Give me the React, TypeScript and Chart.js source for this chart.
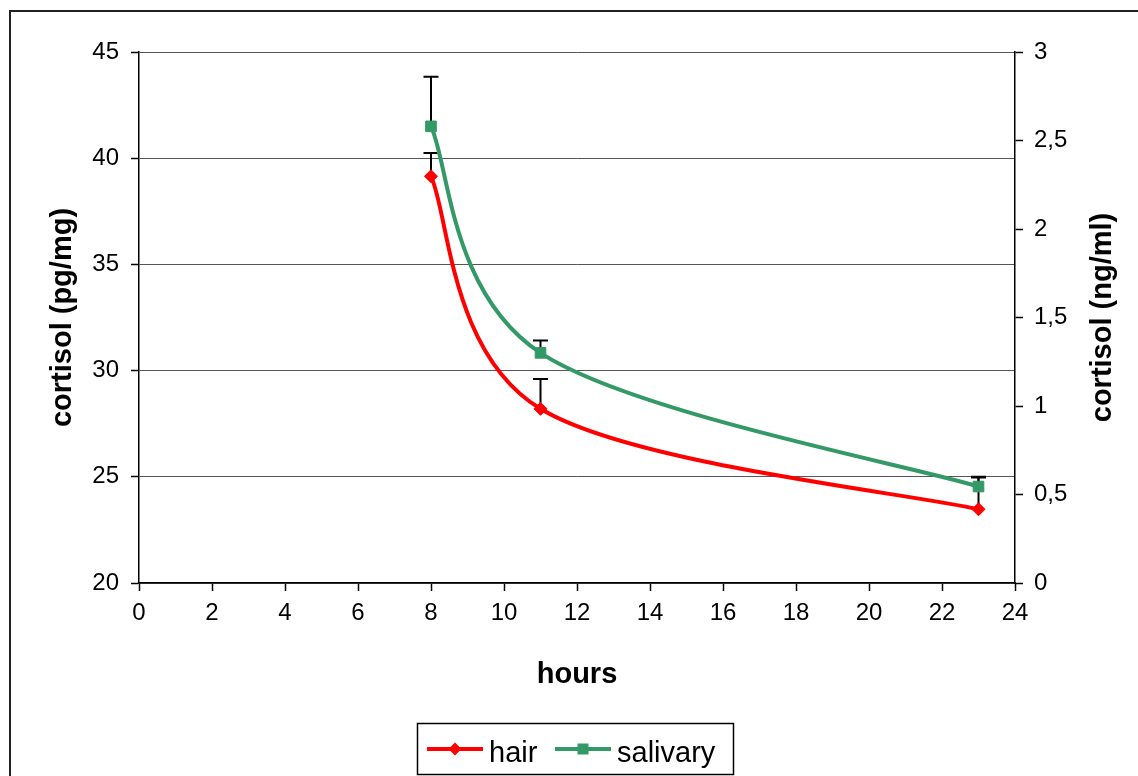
import React, { useEffect, useRef } from "react";
import { Chart, registerables } from "chart.js";

Chart.register(...registerables);

// ---- data ----
const hours = [8, 11, 23];
const hairCortisol = [39.15, 28.2, 23.47];
const hairErrorUp = [1.1, 1.4, 1.5];
const salivaryCortisol = [2.58, 1.3, 0.545];
const salivaryErrorUp = [0.28, 0.07, 0.055];
const seriesLabels = ["hair", "salivary"];
const xTicks = [0, 2, 4, 6, 8, 10, 12, 14, 16, 18, 20, 22, 24];
const leftTickLabels = ["20", "25", "30", "35", "40", "45"];
const rightTickLabels = ["0", "0,5", "1", "1,5", "2", "2,5", "3"];
const xTitle = "hours";
const leftTitle = "cortisol (pg/mg)";
const rightTitle = "cortisol (ng/ml)";

const RED = "#FF0000";
const GREEN = "#339966";
const FONT = "'Liberation Sans', Arial, Helvetica, sans-serif";

// Excel-style smoothing: Catmull-Rom (1/6) Bezier control points in pixel space
const smoothPlugin = {
  id: "excelSmooth",
  beforeDatasetDraw(chart: any, args: any) {
    const meta = args.meta;
    const line = meta.dataset;
    if (!line) return;
    if (typeof line.updateControlPoints === "function") {
      line.updateControlPoints(chart.chartArea, "x");
    }
    const pts = meta.data;
    for (let i = 0; i < pts.length; i++) {
      const cur = pts[i];
      const prev = pts[i - 1] || cur;
      const next = pts[i + 1] || cur;
      const dx = (next.x - prev.x) / 6;
      const dy = (next.y - prev.y) / 6;
      cur.cp1x = cur.x - dx;
      cur.cp1y = cur.y - dy;
      cur.cp2x = cur.x + dx;
      cur.cp2y = cur.y + dy;
    }
  },
};

const errorBarPlugin = {
  id: "errorBars",
  beforeDatasetsDraw(chart: any) {
    const ctx = chart.ctx;
    const errs = [hairErrorUp, salivaryErrorUp];
    chart.data.datasets.forEach((ds: any, i: number) => {
      const yScale = chart.scales[ds.yAxisID];
      const xScale = chart.scales.x;
      ds.data.forEach((p: any, j: number) => {
        const x = xScale.getPixelForValue(p.x);
        const y0 = yScale.getPixelForValue(p.y);
        const y1 = yScale.getPixelForValue(p.y + errs[i][j]);
        ctx.save();
        ctx.strokeStyle = "#000";
        ctx.lineWidth = 2;
        ctx.beginPath();
        ctx.moveTo(x, y0);
        ctx.lineTo(x, y1);
        ctx.moveTo(x - 7.5, y1);
        ctx.lineTo(x + 7.5, y1);
        ctx.stroke();
        ctx.restore();
      });
    });
  },
};

const decorPlugin = {
  id: "decor",
  beforeDraw(chart: any) {
    const ctx = chart.ctx;
    ctx.save();
    ctx.fillStyle = "#fff";
    ctx.fillRect(0, 0, chart.width, chart.height);
    ctx.strokeStyle = "#222";
    ctx.lineWidth = 2;
    ctx.strokeRect(10, 11, 1400, 1000);
    ctx.restore();
  },
  afterDraw(chart: any) {
    const ctx = chart.ctx;
    const area = chart.chartArea;
    const midY = (area.top + area.bottom) / 2;
    ctx.save();
    ctx.fillStyle = "#000";
    ctx.font = `bold 29px ${FONT}`;
    ctx.textAlign = "center";
    ctx.textBaseline = "alphabetic";
    ctx.fillText(xTitle, (area.left + area.right) / 2, 683);
    // left title
    ctx.save();
    ctx.translate(71, midY);
    ctx.rotate(-Math.PI / 2);
    ctx.fillText(leftTitle, 0, 0);
    ctx.restore();
    // right title
    ctx.save();
    ctx.translate(1111, midY);
    ctx.rotate(-Math.PI / 2);
    ctx.fillText(rightTitle, 0, 0);
    ctx.restore();

    // legend
    ctx.strokeStyle = "#000";
    ctx.lineWidth = 1.5;
    ctx.strokeRect(417.5, 723.5, 316, 51);
    const items = [
      { x0: 427, x1: 483, tx: 489 },
      { x0: 555, x1: 611, tx: 617 },
    ];
    chart.data.datasets.forEach((ds: any, i: number) => {
      const it = items[i];
      const ly = 749;
      ctx.strokeStyle = ds.borderColor;
      ctx.lineWidth = 4;
      ctx.beginPath();
      ctx.moveTo(it.x0, ly);
      ctx.lineTo(it.x1, ly);
      ctx.stroke();
      const cx = (it.x0 + it.x1) / 2;
      ctx.fillStyle = ds.borderColor;
      ctx.beginPath();
      if (ds.pointStyle === "rectRot") {
        ctx.moveTo(cx, ly - 6.5);
        ctx.lineTo(cx + 6.5, ly);
        ctx.lineTo(cx, ly + 6.5);
        ctx.lineTo(cx - 6.5, ly);
        ctx.closePath();
      } else {
        ctx.rect(cx - 5.5, ly - 5.5, 11, 11);
      }
      ctx.fill();
      ctx.fillStyle = "#000";
      ctx.font = `29px ${FONT}`;
      ctx.textAlign = "left";
      ctx.textBaseline = "alphabetic";
      ctx.fillText(ds.label, it.tx, 762);
    });
    ctx.restore();
  },
};

export default function App() {
  const ref = useRef<HTMLCanvasElement | null>(null);

  useEffect(() => {
    document.body.style.margin = "0";
    const canvas = ref.current;
    if (!canvas) return;
    Chart.defaults.font.family = FONT;
    const chart = new Chart(canvas, {
      type: "line",
      data: {
        datasets: [
          {
            label: seriesLabels[0],
            data: hours.map((h, i) => ({ x: h, y: hairCortisol[i] })),
            yAxisID: "y",
            borderColor: RED,
            backgroundColor: RED,
            borderWidth: 4,
            tension: 0.4,
            pointStyle: "rectRot",
            pointRadius: 6.5,
            pointBorderWidth: 1,
            pointBackgroundColor: RED,
            pointBorderColor: RED,
            fill: false,
          },
          {
            label: seriesLabels[1],
            data: hours.map((h, i) => ({ x: h, y: salivaryCortisol[i] })),
            yAxisID: "y2",
            borderColor: GREEN,
            backgroundColor: GREEN,
            borderWidth: 4,
            tension: 0.4,
            pointStyle: "rect",
            pointRadius: 7.5,
            pointBorderWidth: 1,
            pointBackgroundColor: GREEN,
            pointBorderColor: GREEN,
            fill: false,
          },
        ],
      },
      options: {
        animation: false,
        responsive: false,
        devicePixelRatio: 1,
        layout: { padding: { top: 52, left: 0, right: 0, bottom: 0 } },
        plugins: {
          legend: { display: false },
          tooltip: { enabled: false },
        },
        scales: {
          x: {
            type: "linear",
            min: 0,
            max: 24,
            afterBuildTicks: (s: any) => {
              s.ticks = xTicks.map((v) => ({ value: v }));
            },
            ticks: {
              color: "#000",
              font: { size: 24 },
              padding: 8,
              maxRotation: 0,
              autoSkip: false,
              callback: (v: any) => String(v),
            },
            grid: {
              drawOnChartArea: false,
              drawTicks: true,
              tickLength: 8,
              tickColor: "#000",
              tickWidth: 1.5,
            },
            border: { color: "#000", width: 1.5 },
            afterFit: (s: any) => {
              s.height = 193;
            },
          },
          y: {
            type: "linear",
            position: "left",
            min: 20,
            max: 45,
            ticks: {
              stepSize: 5,
              color: "#000",
              font: { size: 24 },
              padding: 12,
              callback: (_v: any, i: number) => leftTickLabels[i],
            },
            grid: {
              color: "#555",
              lineWidth: 1,
              drawTicks: true,
              tickLength: 8,
              tickColor: "#000",
              tickWidth: 1.5,
            },
            border: { color: "#000", width: 1.5 },
            afterFit: (s: any) => {
              s.width = 139;
            },
          },
          y2: {
            type: "linear",
            position: "right",
            min: 0,
            max: 3,
            ticks: {
              stepSize: 0.5,
              color: "#000",
              font: { size: 24 },
              padding: 11,
              callback: (_v: any, i: number) => rightTickLabels[i],
            },
            grid: {
              drawOnChartArea: false,
              drawTicks: true,
              tickLength: 8,
              tickColor: "#000",
              tickWidth: 1.5,
            },
            border: { color: "#000", width: 1.5 },
            afterFit: (s: any) => {
              s.width = 123;
            },
          },
        },
      },
      plugins: [decorPlugin, errorBarPlugin, smoothPlugin],
    } as any);
    return () => chart.destroy();
  }, []);

  return (
    <div style={{ width: 1138, height: 776, position: "relative" }}>
      <canvas ref={ref} width={1138} height={776} style={{ display: "block" }} />
    </div>
  );
}
